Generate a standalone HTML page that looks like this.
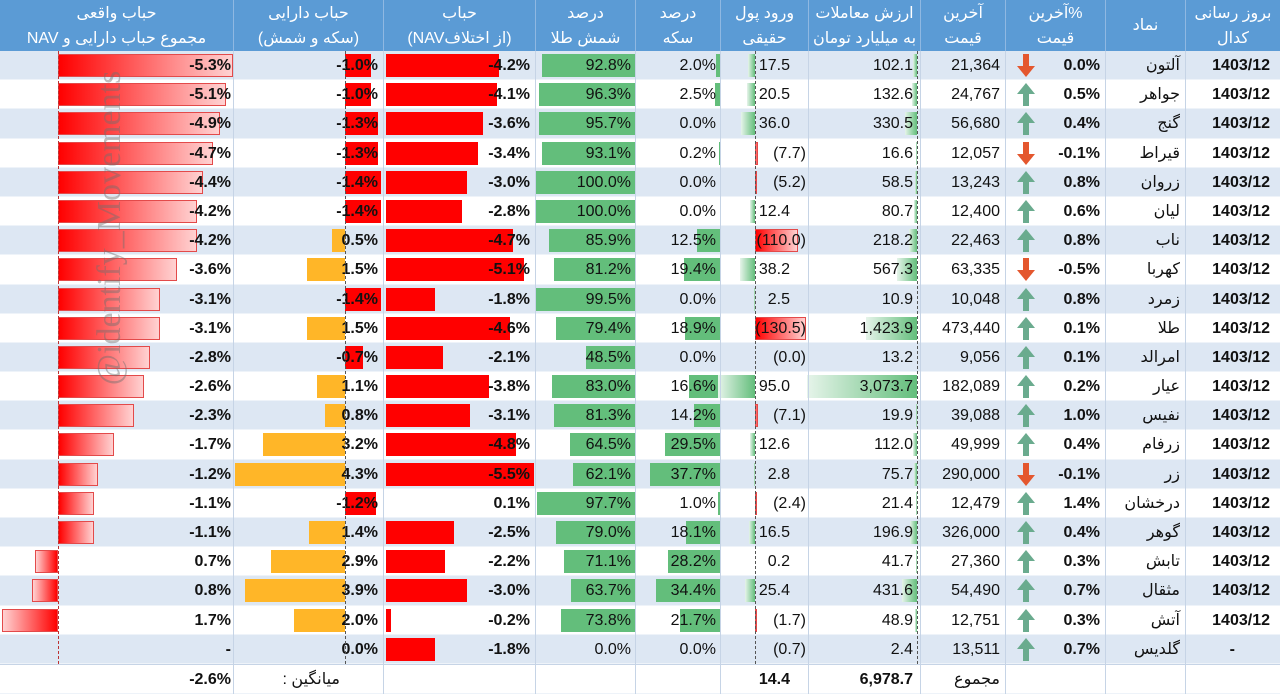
<!DOCTYPE html>
<html><head><meta charset="utf-8">
<style>
*{margin:0;padding:0;box-sizing:border-box}
body{width:1280px;height:694px;overflow:hidden;background:#fff;font-family:"Liberation Sans","DejaVu Sans",sans-serif;position:relative}
.hd{position:absolute;left:0;top:0;width:1280px;height:51px;background:#5b9bd5}
.hd div{position:absolute;top:0;height:51px;color:#fff;font-size:16px;line-height:25px;text-align:center;padding-top:1px;border-left:1px solid #8fb8e2;direction:rtl}
.r{position:relative;height:29.2px;border-bottom:1px solid #eef3f9}
.b{background:#dde7f3}
.r i{position:absolute;top:3px;height:23px;display:block}
.ra{left:58px;background:linear-gradient(to right,#ff0000,#ffd2d2);border:1px solid #e34a4a}
.rap{background:linear-gradient(to left,#ff0000,#ffd2d2);border:1px solid #e34a4a}
.o{background:#ffb628}
.rd{background:#ff0000}
.c3{left:386px;background:#ff0000}
.gr{background:#63be7b}
.fg{background:linear-gradient(to left,#63be7b,#e6f4ea)}
.fr{left:755px;background:linear-gradient(to right,#ff0000,#ffd2d2);border:1px solid #e34a4a}
.gg{background:linear-gradient(to left,#63be7b,#e6f4ea)}
.t{position:absolute;top:0;line-height:29px;font-size:16px;color:#111;white-space:nowrap}
.a{right:1049px;font-weight:bold}.bb{right:902px;font-weight:bold}.c{right:750px;font-weight:bold}
.d{right:649px}.e{right:564px}.fp{right:490px}.fn{right:474px}.g{right:367px}.h{right:280px}
.ip{right:180px;font-weight:bold}.j{right:100px;direction:rtl;font-size:16px}.k{right:10px;font-weight:bold}
.ar{position:absolute;left:1017px;top:3px}
.vl{position:absolute;top:51px;height:643px;width:1px;background:#c6d4e6}
.dl{position:absolute;top:51px;height:613px;width:0;border-left:1px dashed #555}
.wm{position:absolute;left:110px;top:228px;transform:translate(-50%,-50%) rotate(-90deg);font-family:"Liberation Serif",serif;font-size:34px;color:rgba(110,110,110,0.45);white-space:nowrap}
</style></head><body>
<div class="hd">
<div style="left:0;width:233px;border-left:none">حباب واقعی<br>مجموع حباب دارایی و NAV</div>
<div style="left:233px;width:150px">حباب دارایی<br>(سکه و شمش)</div>
<div style="left:383px;width:152px">حباب<br>(از اختلافNAV)</div>
<div style="left:535px;width:100px">درصد<br>شمش طلا</div>
<div style="left:635px;width:85px">درصد<br>سکه</div>
<div style="left:720px;width:88px">ورود پول<br>حقیقی</div>
<div style="left:808px;width:112px">ارزش معاملات<br>به میلیارد تومان</div>
<div style="left:920px;width:85px">آخرین<br>قیمت</div>
<div style="left:1005px;width:100px">%آخرین<br>قیمت</div>
<div style="left:1105px;width:80px;line-height:49px">نماد</div>
<div style="left:1185px;width:95px">بروز رسانی<br>کدال</div>
</div>
<div style="position:absolute;top:51px;left:0;width:1280px">
<div class="r b"><i class="ra" style="width:175px"></i><i class="rd" style="left:345px;width:26px"></i><i class="c3" style="width:113px"></i><i class="gr" style="left:542px;width:93px"></i><i class="gr" style="left:716px;width:4px"></i><i class="fg" style="left:748px;width:7px"></i><i class="gg" style="left:913px;width:4px"></i>
<div class="t a">-5.3%</div><div class="t bb">-1.0%</div><div class="t c">-4.2%</div><div class="t d">92.8%</div><div class="t e">2.0%</div><div class="t fp">17.5</div><div class="t g">102.1</div><div class="t h">21,364</div><svg class="ar" width="18" height="23" viewBox="0 0 18 23"><path d="M9 23L18 12H12V0H6V12H0Z" fill="#e4572e"/></svg><div class="t ip">0.0%</div><div class="t j">آلتون</div><div class="t k">1403/12</div></div>
<div class="r"><i class="ra" style="width:168px"></i><i class="rd" style="left:345px;width:26px"></i><i class="c3" style="width:111px"></i><i class="gr" style="left:539px;width:96px"></i><i class="gr" style="left:715px;width:5px"></i><i class="fg" style="left:747px;width:8px"></i><i class="gg" style="left:912px;width:5px"></i>
<div class="t a">-5.1%</div><div class="t bb">-1.0%</div><div class="t c">-4.1%</div><div class="t d">96.3%</div><div class="t e">2.5%</div><div class="t fp">20.5</div><div class="t g">132.6</div><div class="t h">24,767</div><svg class="ar" width="18" height="23" viewBox="0 0 18 23"><path d="M9 0L18 11H12V23H6V11H0Z" fill="#6aab8e"/></svg><div class="t ip">0.5%</div><div class="t j">جواهر</div><div class="t k">1403/12</div></div>
<div class="r b"><i class="ra" style="width:162px"></i><i class="rd" style="left:345px;width:33px"></i><i class="c3" style="width:97px"></i><i class="gr" style="left:539px;width:96px"></i><i class="fg" style="left:741px;width:14px"></i><i class="gg" style="left:905px;width:12px"></i>
<div class="t a">-4.9%</div><div class="t bb">-1.3%</div><div class="t c">-3.6%</div><div class="t d">95.7%</div><div class="t e">0.0%</div><div class="t fp">36.0</div><div class="t g">330.5</div><div class="t h">56,680</div><svg class="ar" width="18" height="23" viewBox="0 0 18 23"><path d="M9 0L18 11H12V23H6V11H0Z" fill="#6aab8e"/></svg><div class="t ip">0.4%</div><div class="t j">گنج</div><div class="t k">1403/12</div></div>
<div class="r"><i class="ra" style="width:155px"></i><i class="rd" style="left:345px;width:33px"></i><i class="c3" style="width:92px"></i><i class="gr" style="left:542px;width:93px"></i><i class="gr" style="left:719px;width:1px"></i><i class="fr" style="width:3px"></i><i class="gg" style="left:916px;width:1px"></i>
<div class="t a">-4.7%</div><div class="t bb">-1.3%</div><div class="t c">-3.4%</div><div class="t d">93.1%</div><div class="t e">0.2%</div><div class="t fn">(7.7)</div><div class="t g">16.6</div><div class="t h">12,057</div><svg class="ar" width="18" height="23" viewBox="0 0 18 23"><path d="M9 23L18 12H12V0H6V12H0Z" fill="#e4572e"/></svg><div class="t ip">-0.1%</div><div class="t j">قیراط</div><div class="t k">1403/12</div></div>
<div class="r b"><i class="ra" style="width:145px"></i><i class="rd" style="left:345px;width:36px"></i><i class="c3" style="width:81px"></i><i class="gr" style="left:535px;width:100px"></i><i class="fr" style="width:2px"></i><i class="gg" style="left:915px;width:2px"></i>
<div class="t a">-4.4%</div><div class="t bb">-1.4%</div><div class="t c">-3.0%</div><div class="t d">100.0%</div><div class="t e">0.0%</div><div class="t fn">(5.2)</div><div class="t g">58.5</div><div class="t h">13,243</div><svg class="ar" width="18" height="23" viewBox="0 0 18 23"><path d="M9 0L18 11H12V23H6V11H0Z" fill="#6aab8e"/></svg><div class="t ip">0.8%</div><div class="t j">زروان</div><div class="t k">1403/12</div></div>
<div class="r"><i class="ra" style="width:139px"></i><i class="rd" style="left:345px;width:36px"></i><i class="c3" style="width:76px"></i><i class="gr" style="left:535px;width:100px"></i><i class="fg" style="left:750px;width:5px"></i><i class="gg" style="left:914px;width:3px"></i>
<div class="t a">-4.2%</div><div class="t bb">-1.4%</div><div class="t c">-2.8%</div><div class="t d">100.0%</div><div class="t e">0.0%</div><div class="t fp">12.4</div><div class="t g">80.7</div><div class="t h">12,400</div><svg class="ar" width="18" height="23" viewBox="0 0 18 23"><path d="M9 0L18 11H12V23H6V11H0Z" fill="#6aab8e"/></svg><div class="t ip">0.6%</div><div class="t j">لیان</div><div class="t k">1403/12</div></div>
<div class="r b"><i class="ra" style="width:139px"></i><i class="o" style="left:332px;width:13px"></i><i class="c3" style="width:127px"></i><i class="gr" style="left:549px;width:86px"></i><i class="gr" style="left:697px;width:23px"></i><i class="fr" style="width:43px"></i><i class="gg" style="left:909px;width:8px"></i>
<div class="t a">-4.2%</div><div class="t bb">0.5%</div><div class="t c">-4.7%</div><div class="t d">85.9%</div><div class="t e">12.5%</div><div class="t fn">(110.0)</div><div class="t g">218.2</div><div class="t h">22,463</div><svg class="ar" width="18" height="23" viewBox="0 0 18 23"><path d="M9 0L18 11H12V23H6V11H0Z" fill="#6aab8e"/></svg><div class="t ip">0.8%</div><div class="t j">ناب</div><div class="t k">1403/12</div></div>
<div class="r"><i class="ra" style="width:119px"></i><i class="o" style="left:307px;width:38px"></i><i class="c3" style="width:138px"></i><i class="gr" style="left:554px;width:81px"></i><i class="gr" style="left:684px;width:36px"></i><i class="fg" style="left:740px;width:15px"></i><i class="gg" style="left:897px;width:20px"></i>
<div class="t a">-3.6%</div><div class="t bb">1.5%</div><div class="t c">-5.1%</div><div class="t d">81.2%</div><div class="t e">19.4%</div><div class="t fp">38.2</div><div class="t g">567.3</div><div class="t h">63,335</div><svg class="ar" width="18" height="23" viewBox="0 0 18 23"><path d="M9 23L18 12H12V0H6V12H0Z" fill="#e4572e"/></svg><div class="t ip">-0.5%</div><div class="t j">کهربا</div><div class="t k">1403/12</div></div>
<div class="r b"><i class="ra" style="width:102px"></i><i class="rd" style="left:345px;width:36px"></i><i class="c3" style="width:49px"></i><i class="gr" style="left:536px;width:99px"></i><i class="fg" style="left:754px;width:1px"></i>
<div class="t a">-3.1%</div><div class="t bb">-1.4%</div><div class="t c">-1.8%</div><div class="t d">99.5%</div><div class="t e">0.0%</div><div class="t fp">2.5</div><div class="t g">10.9</div><div class="t h">10,048</div><svg class="ar" width="18" height="23" viewBox="0 0 18 23"><path d="M9 0L18 11H12V23H6V11H0Z" fill="#6aab8e"/></svg><div class="t ip">0.8%</div><div class="t j">زمرد</div><div class="t k">1403/12</div></div>
<div class="r"><i class="ra" style="width:102px"></i><i class="o" style="left:307px;width:38px"></i><i class="c3" style="width:124px"></i><i class="gr" style="left:556px;width:79px"></i><i class="gr" style="left:685px;width:35px"></i><i class="fr" style="width:51px"></i><i class="gg" style="left:866px;width:51px"></i>
<div class="t a">-3.1%</div><div class="t bb">1.5%</div><div class="t c">-4.6%</div><div class="t d">79.4%</div><div class="t e">18.9%</div><div class="t fn">(130.5)</div><div class="t g">1,423.9</div><div class="t h">473,440</div><svg class="ar" width="18" height="23" viewBox="0 0 18 23"><path d="M9 0L18 11H12V23H6V11H0Z" fill="#6aab8e"/></svg><div class="t ip">0.1%</div><div class="t j">طلا</div><div class="t k">1403/12</div></div>
<div class="r b"><i class="ra" style="width:92px"></i><i class="rd" style="left:345px;width:18px"></i><i class="c3" style="width:57px"></i><i class="gr" style="left:586px;width:49px"></i>
<div class="t a">-2.8%</div><div class="t bb">-0.7%</div><div class="t c">-2.1%</div><div class="t d">48.5%</div><div class="t e">0.0%</div><div class="t fn">(0.0)</div><div class="t g">13.2</div><div class="t h">9,056</div><svg class="ar" width="18" height="23" viewBox="0 0 18 23"><path d="M9 0L18 11H12V23H6V11H0Z" fill="#6aab8e"/></svg><div class="t ip">0.1%</div><div class="t j">امرالد</div><div class="t k">1403/12</div></div>
<div class="r"><i class="ra" style="width:86px"></i><i class="o" style="left:317px;width:28px"></i><i class="c3" style="width:103px"></i><i class="gr" style="left:552px;width:83px"></i><i class="gr" style="left:689px;width:31px"></i><i class="fg" style="left:718px;width:37px"></i><i class="gg" style="left:807px;width:110px"></i>
<div class="t a">-2.6%</div><div class="t bb">1.1%</div><div class="t c">-3.8%</div><div class="t d">83.0%</div><div class="t e">16.6%</div><div class="t fp">95.0</div><div class="t g">3,073.7</div><div class="t h">182,089</div><svg class="ar" width="18" height="23" viewBox="0 0 18 23"><path d="M9 0L18 11H12V23H6V11H0Z" fill="#6aab8e"/></svg><div class="t ip">0.2%</div><div class="t j">عیار</div><div class="t k">1403/12</div></div>
<div class="r b"><i class="ra" style="width:76px"></i><i class="o" style="left:325px;width:20px"></i><i class="c3" style="width:84px"></i><i class="gr" style="left:554px;width:81px"></i><i class="gr" style="left:694px;width:26px"></i><i class="fr" style="width:3px"></i><i class="gg" style="left:916px;width:1px"></i>
<div class="t a">-2.3%</div><div class="t bb">0.8%</div><div class="t c">-3.1%</div><div class="t d">81.3%</div><div class="t e">14.2%</div><div class="t fn">(7.1)</div><div class="t g">19.9</div><div class="t h">39,088</div><svg class="ar" width="18" height="23" viewBox="0 0 18 23"><path d="M9 0L18 11H12V23H6V11H0Z" fill="#6aab8e"/></svg><div class="t ip">1.0%</div><div class="t j">نفیس</div><div class="t k">1403/12</div></div>
<div class="r"><i class="ra" style="width:56px"></i><i class="o" style="left:263px;width:82px"></i><i class="c3" style="width:130px"></i><i class="gr" style="left:570px;width:65px"></i><i class="gr" style="left:665px;width:55px"></i><i class="fg" style="left:750px;width:5px"></i><i class="gg" style="left:913px;width:4px"></i>
<div class="t a">-1.7%</div><div class="t bb">3.2%</div><div class="t c">-4.8%</div><div class="t d">64.5%</div><div class="t e">29.5%</div><div class="t fp">12.6</div><div class="t g">112.0</div><div class="t h">49,999</div><svg class="ar" width="18" height="23" viewBox="0 0 18 23"><path d="M9 0L18 11H12V23H6V11H0Z" fill="#6aab8e"/></svg><div class="t ip">0.4%</div><div class="t j">زرفام</div><div class="t k">1403/12</div></div>
<div class="r b"><i class="ra" style="width:40px"></i><i class="o" style="left:235px;width:110px"></i><i class="c3" style="width:148px"></i><i class="gr" style="left:573px;width:62px"></i><i class="gr" style="left:650px;width:70px"></i><i class="fg" style="left:754px;width:1px"></i><i class="gg" style="left:914px;width:3px"></i>
<div class="t a">-1.2%</div><div class="t bb">4.3%</div><div class="t c">-5.5%</div><div class="t d">62.1%</div><div class="t e">37.7%</div><div class="t fp">2.8</div><div class="t g">75.7</div><div class="t h">290,000</div><svg class="ar" width="18" height="23" viewBox="0 0 18 23"><path d="M9 23L18 12H12V0H6V12H0Z" fill="#e4572e"/></svg><div class="t ip">-0.1%</div><div class="t j">زر</div><div class="t k">1403/12</div></div>
<div class="r"><i class="ra" style="width:36px"></i><i class="rd" style="left:345px;width:31px"></i><i class="gr" style="left:537px;width:98px"></i><i class="gr" style="left:718px;width:2px"></i><i class="fr" style="width:1px"></i><i class="gg" style="left:916px;width:1px"></i>
<div class="t a">-1.1%</div><div class="t bb">-1.2%</div><div class="t c">0.1%</div><div class="t d">97.7%</div><div class="t e">1.0%</div><div class="t fn">(2.4)</div><div class="t g">21.4</div><div class="t h">12,479</div><svg class="ar" width="18" height="23" viewBox="0 0 18 23"><path d="M9 0L18 11H12V23H6V11H0Z" fill="#6aab8e"/></svg><div class="t ip">1.4%</div><div class="t j">درخشان</div><div class="t k">1403/12</div></div>
<div class="r b"><i class="ra" style="width:36px"></i><i class="o" style="left:309px;width:36px"></i><i class="c3" style="width:68px"></i><i class="gr" style="left:556px;width:79px"></i><i class="gr" style="left:686px;width:34px"></i><i class="fg" style="left:749px;width:6px"></i><i class="gg" style="left:910px;width:7px"></i>
<div class="t a">-1.1%</div><div class="t bb">1.4%</div><div class="t c">-2.5%</div><div class="t d">79.0%</div><div class="t e">18.1%</div><div class="t fp">16.5</div><div class="t g">196.9</div><div class="t h">326,000</div><svg class="ar" width="18" height="23" viewBox="0 0 18 23"><path d="M9 0L18 11H12V23H6V11H0Z" fill="#6aab8e"/></svg><div class="t ip">0.4%</div><div class="t j">گوهر</div><div class="t k">1403/12</div></div>
<div class="r"><i class="rap" style="left:35px;width:23px"></i><i class="o" style="left:271px;width:74px"></i><i class="c3" style="width:59px"></i><i class="gr" style="left:564px;width:71px"></i><i class="gr" style="left:668px;width:52px"></i><i class="gg" style="left:916px;width:1px"></i>
<div class="t a">0.7%</div><div class="t bb">2.9%</div><div class="t c">-2.2%</div><div class="t d">71.1%</div><div class="t e">28.2%</div><div class="t fp">0.2</div><div class="t g">41.7</div><div class="t h">27,360</div><svg class="ar" width="18" height="23" viewBox="0 0 18 23"><path d="M9 0L18 11H12V23H6V11H0Z" fill="#6aab8e"/></svg><div class="t ip">0.3%</div><div class="t j">تابش</div><div class="t k">1403/12</div></div>
<div class="r b"><i class="rap" style="left:32px;width:26px"></i><i class="o" style="left:245px;width:100px"></i><i class="c3" style="width:81px"></i><i class="gr" style="left:571px;width:64px"></i><i class="gr" style="left:656px;width:64px"></i><i class="fg" style="left:745px;width:10px"></i><i class="gg" style="left:902px;width:15px"></i>
<div class="t a">0.8%</div><div class="t bb">3.9%</div><div class="t c">-3.0%</div><div class="t d">63.7%</div><div class="t e">34.4%</div><div class="t fp">25.4</div><div class="t g">431.6</div><div class="t h">54,490</div><svg class="ar" width="18" height="23" viewBox="0 0 18 23"><path d="M9 0L18 11H12V23H6V11H0Z" fill="#6aab8e"/></svg><div class="t ip">0.7%</div><div class="t j">مثقال</div><div class="t k">1403/12</div></div>
<div class="r"><i class="rap" style="left:2px;width:56px"></i><i class="o" style="left:294px;width:51px"></i><i class="c3" style="width:5px"></i><i class="gr" style="left:561px;width:74px"></i><i class="gr" style="left:680px;width:40px"></i><i class="fr" style="width:1px"></i><i class="gg" style="left:915px;width:2px"></i>
<div class="t a">1.7%</div><div class="t bb">2.0%</div><div class="t c">-0.2%</div><div class="t d">73.8%</div><div class="t e">21.7%</div><div class="t fn">(1.7)</div><div class="t g">48.9</div><div class="t h">12,751</div><svg class="ar" width="18" height="23" viewBox="0 0 18 23"><path d="M9 0L18 11H12V23H6V11H0Z" fill="#6aab8e"/></svg><div class="t ip">0.3%</div><div class="t j">آتش</div><div class="t k">1403/12</div></div>
<div class="r b"><i class="c3" style="width:49px"></i>
<div class="t a">-</div><div class="t bb">0.0%</div><div class="t c">-1.8%</div><div class="t d">0.0%</div><div class="t e">0.0%</div><div class="t fn">(0.7)</div><div class="t g">2.4</div><div class="t h">13,511</div><svg class="ar" width="18" height="23" viewBox="0 0 18 23"><path d="M9 0L18 11H12V23H6V11H0Z" fill="#6aab8e"/></svg><div class="t ip">0.7%</div><div class="t j">گلدیس</div><div class="t" style="right:45px;font-weight:bold">-</div></div>
<div class="r" style="height:30px;border-top:1px solid #c6d4e6">
<div class="t a">-2.6%</div><div class="t" style="right:940px;direction:rtl;font-size:16px">میانگین :</div><div class="t fp" style="font-weight:bold">14.4</div><div class="t g" style="font-weight:bold">6,978.7</div><div class="t" style="right:280px;direction:rtl;font-size:16px">مجموع</div></div>
</div>
<div class="vl" style="left:233px"></div><div class="vl" style="left:383px"></div><div class="vl" style="left:535px"></div><div class="vl" style="left:635px"></div><div class="vl" style="left:720px"></div><div class="vl" style="left:808px"></div><div class="vl" style="left:920px"></div><div class="vl" style="left:1005px"></div><div class="vl" style="left:1105px"></div><div class="vl" style="left:1185px"></div>
<div class="dl" style="left:58px;border-color:#b33"></div><div class="dl" style="left:345px"></div><div class="dl" style="left:755px"></div><div class="dl" style="left:917px"></div>
<div class="wm">@identify_Movements</div>
</body></html>
